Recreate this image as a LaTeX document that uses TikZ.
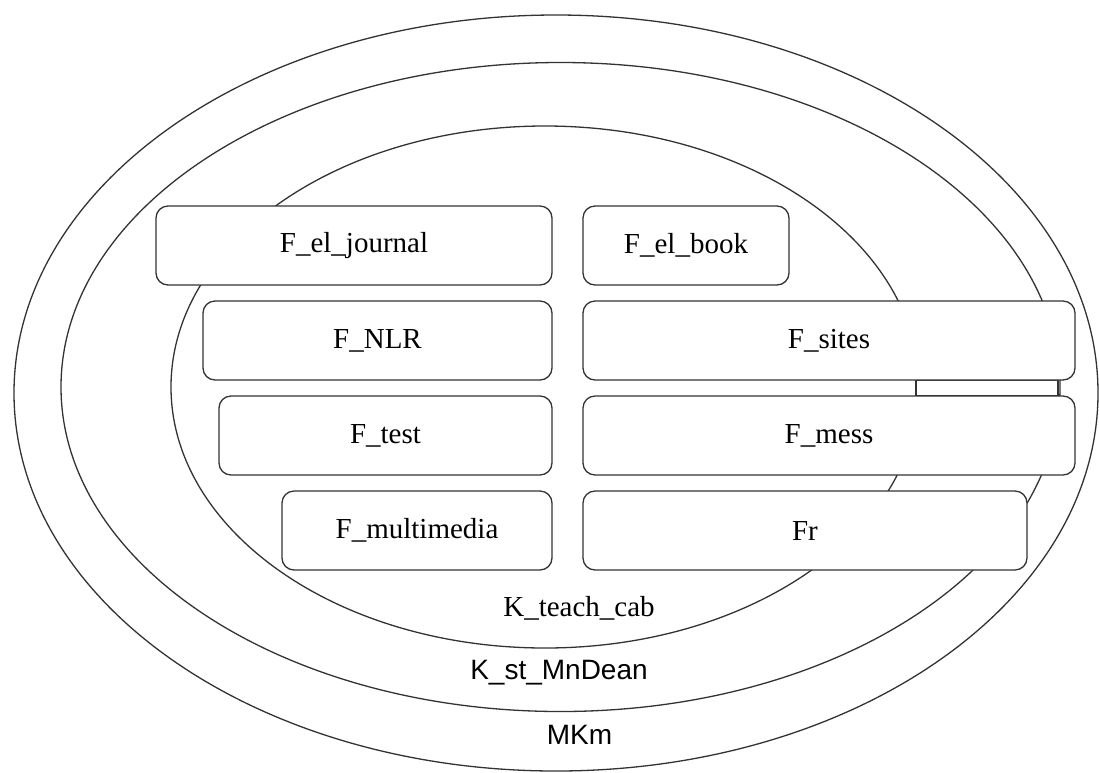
\documentclass[tikz,border=0pt]{standalone}
\usepackage{fontspec}
\setmainfont{Liberation Serif}
\newfontfamily\labelsans{Liberation Sans}
\definecolor{edge}{HTML}{333333}
\tikzset{
  ring/.style={draw=edge, line width=1.3pt, fill=white},
  fbox/.style={draw=edge, line width=1.3pt, fill=white, rounded corners=12pt,
               inner sep=0pt, minimum height=79pt,
               font=\fontsize{29}{34}\selectfont},
  joiner/.style={draw=edge, line width=1.3pt, fill=white, inner sep=0pt,
                 minimum width=142pt, minimum height=16pt},
  serifcap/.style={inner sep=0pt, font=\fontsize{29}{34}\selectfont},
  sanscap/.style={inner sep=0pt, font=\labelsans\fontsize{28}{33}\selectfont}
}
\begin{document}
\begin{tikzpicture}[x=1pt, y=-1pt]
\useasboundingbox (0,0) rectangle (1099,772);

% nested areas, outermost first
\draw[ring] (556,393) ellipse [x radius=542pt, y radius=378pt];
\draw[ring] (560.5,387) ellipse [x radius=499.5pt, y radius=324.5pt];
\draw[ring] (545,387) ellipse [x radius=374pt, y radius=261pt];

\node[serifcap] (kteach) at (579,608) {K\_teach\_cab};
\node[sanscap] (kst) at (559,673) {K\_st\_MnDean};
\node[sanscap] (mkm) at (579.5,735) {MKm};

% small block between F_sites and F_mess
\node[joiner] (gap) at (987,388) {};

% left column
\node[fbox, minimum width=396pt] (jour) at (354,245.5) {F\_el\_journal};
\node[fbox, minimum width=349pt] (nlr)  at (377.5,340.5) {F\_NLR};
\node[fbox, minimum width=333pt] (test) at (385.5,435.5) {F\_test};
\node[fbox, minimum width=270pt] (mult) at (417,530.5) {F\_multimedia};

% right column
\node[fbox, minimum width=206pt] (book)  at (686,245.5) {F\_el\_book};
\node[fbox, minimum width=492pt] (sites) at (829,340.5) {F\_sites};
\node[fbox, minimum width=492pt] (mess)  at (829,435.5) {F\_mess};
\node[fbox, minimum width=444pt] (fr)    at (805,530.5) {Fr};
\end{tikzpicture}
\end{document}
